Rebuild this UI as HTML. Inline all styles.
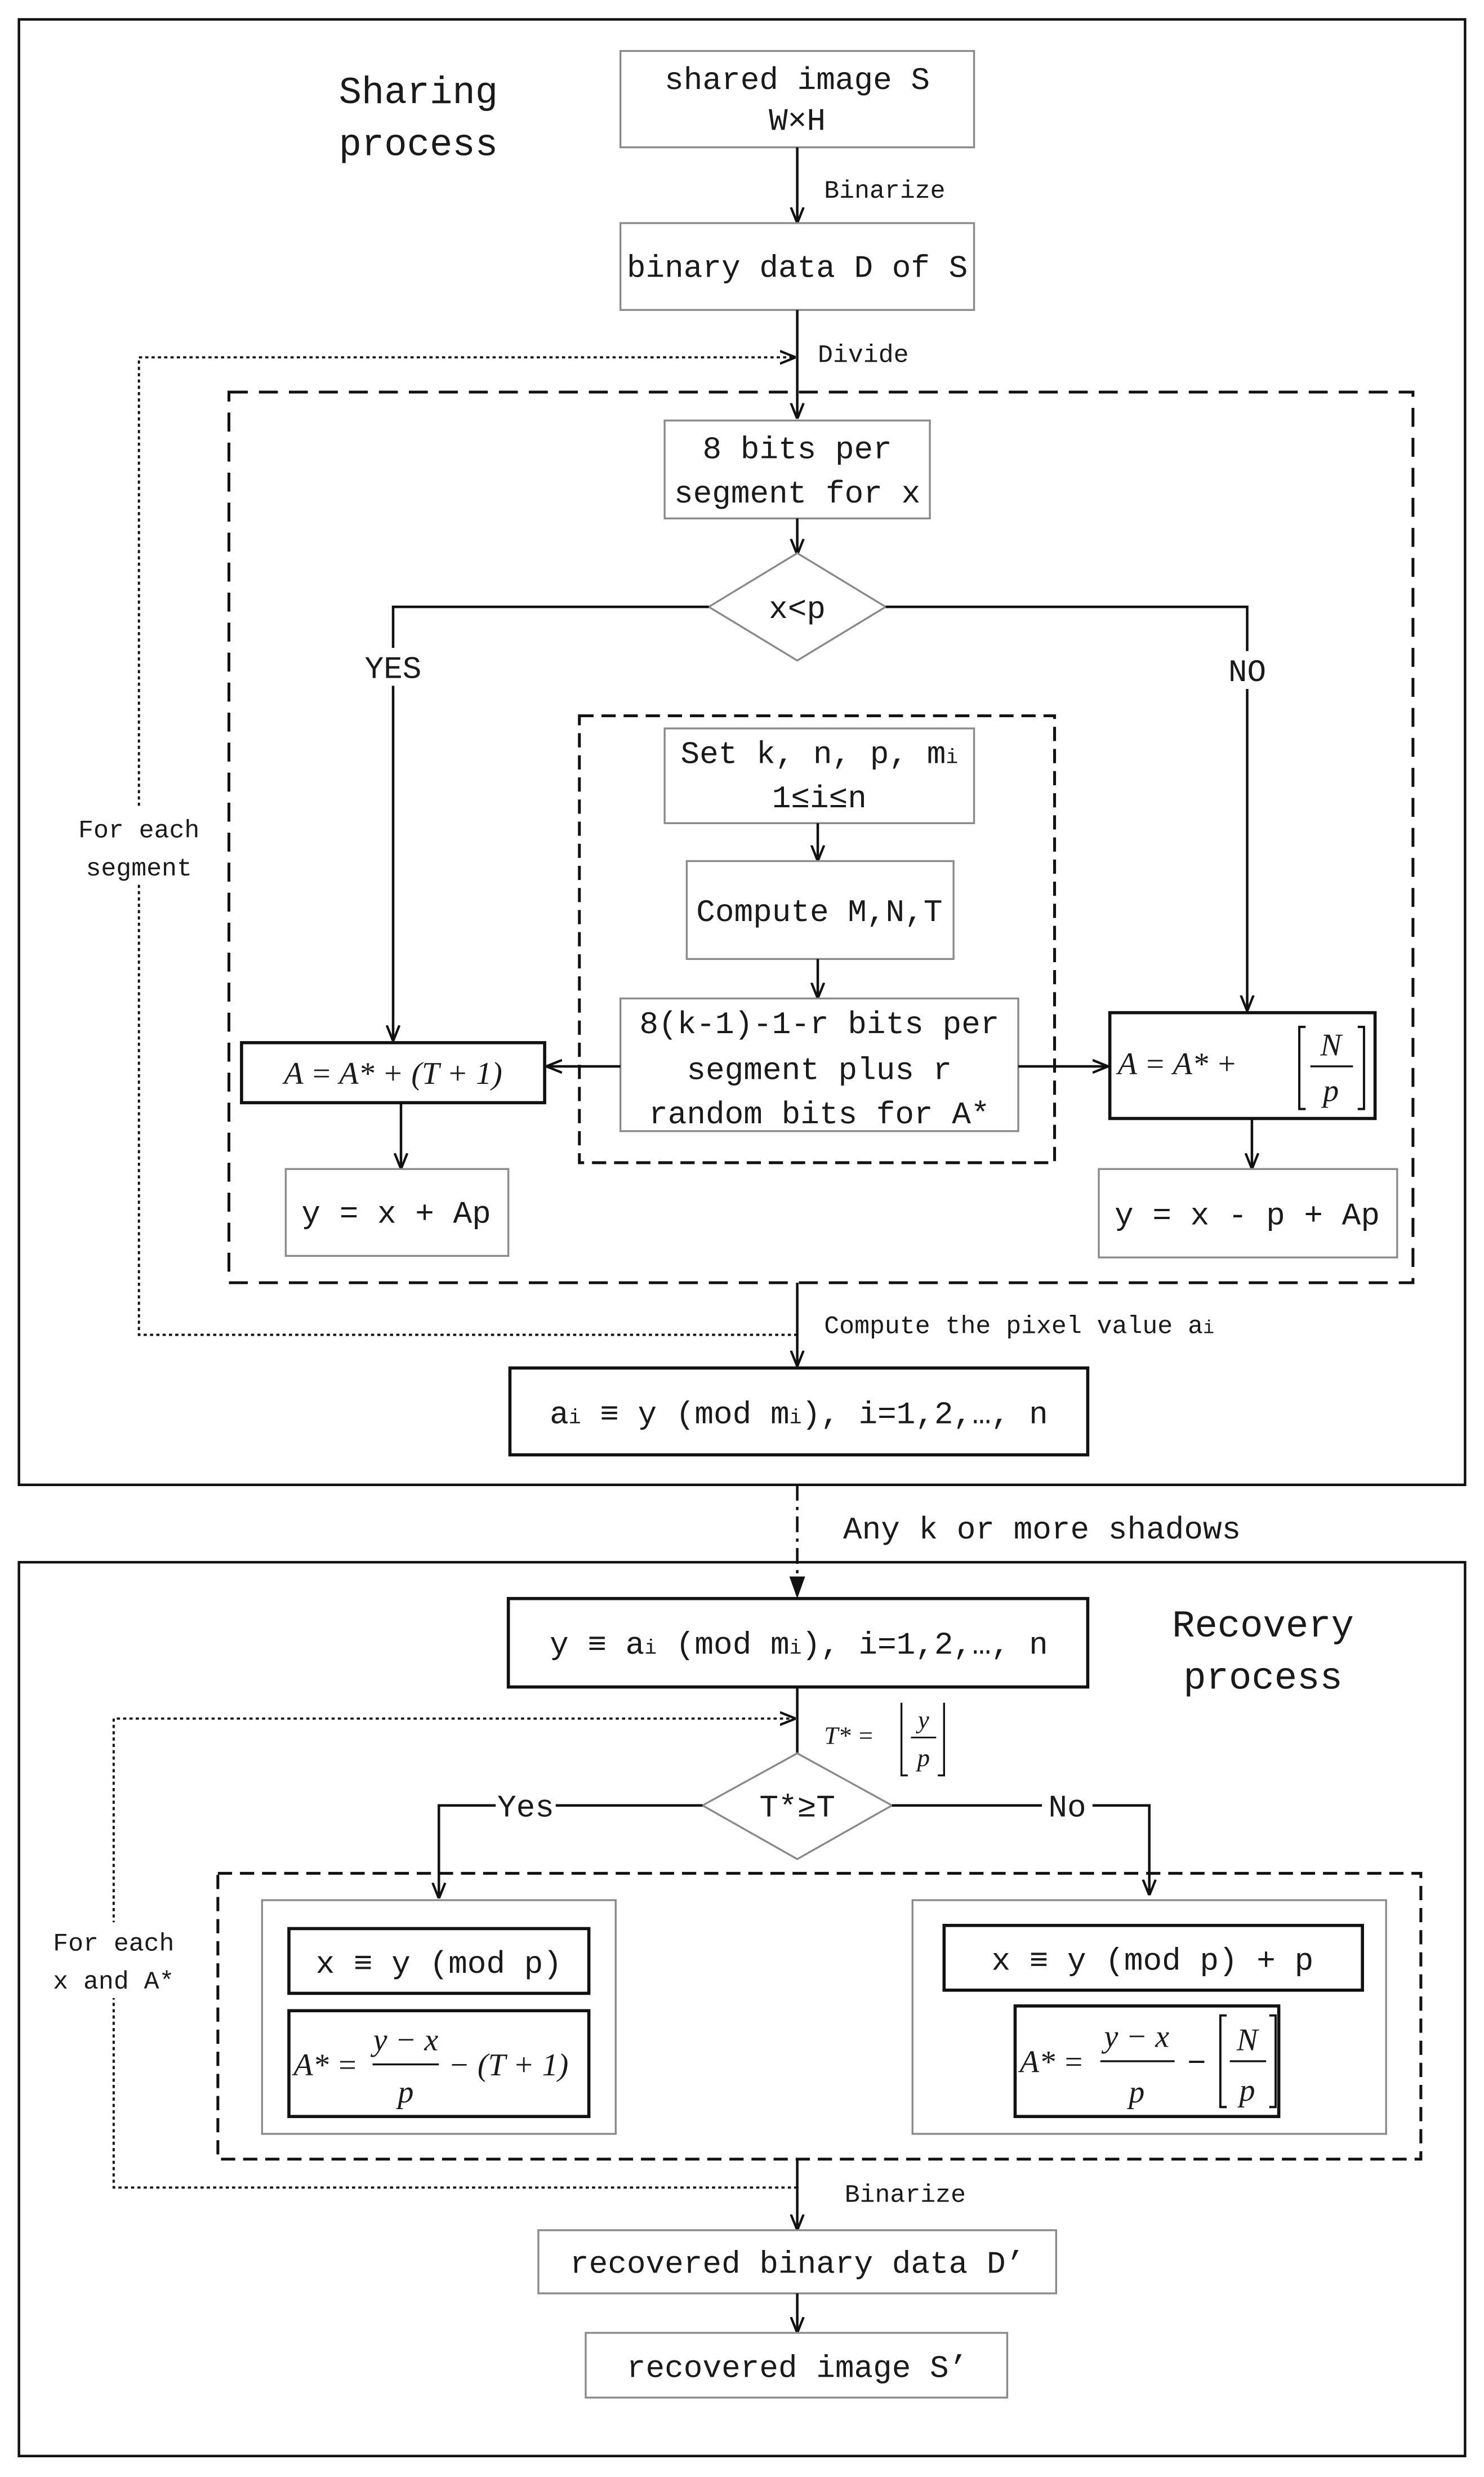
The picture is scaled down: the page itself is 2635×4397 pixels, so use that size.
<!DOCTYPE html>
<html><head><meta charset="utf-8"><style>
html,body{margin:0;padding:0;background:#fff}
svg{display:block}
text{font-family:"Liberation Mono","Noto Sans CJK SC",monospace;fill:#1a1a1a}
.t{font-size:20px}
.s{font-size:16px}
.g{fill:#fff;stroke:#8a8a8a;stroke-width:1.2}
.b{fill:#fff;stroke:#111;stroke-width:2}
.l{stroke:#111;stroke-width:1.6;fill:none}
.it{font-family:"Liberation Serif",serif;font-style:italic}
</style></head><body>
<svg width="2635" height="4397" viewBox="0 0 940 1568" xmlns="http://www.w3.org/2000/svg">
<defs><marker id="a" markerWidth="10" markerHeight="10" refX="9" refY="5" orient="auto" markerUnits="userSpaceOnUse"><path d="M0,1 L10,5 L0,9" fill="none" stroke="#111" stroke-width="1.5"/></marker>
<marker id="f" markerWidth="14" markerHeight="14" refX="13" refY="7" orient="auto" markerUnits="userSpaceOnUse"><path d="M0,2 L14,7 L0,12 z" fill="#111"/></marker></defs>
<rect x="12" y="12" width="916" height="928" fill="none" stroke="#111" stroke-width="1.6"/>
<rect x="12" y="989" width="916" height="566" fill="none" stroke="#111" stroke-width="1.6"/>
<text x="265" y="65" font-size="24" text-anchor="middle">Sharing</text>
<text x="265" y="98" font-size="24" text-anchor="middle">process</text>
<rect class="g" x="393" y="32" width="224" height="61"/>
<text class="t" x="505" y="56" text-anchor="middle">shared image S</text>
<text class="t" x="505" y="82" text-anchor="middle">W×H</text>
<line class="l" x1="505" y1="93" x2="505" y2="140" marker-end="url(#a)"/>
<text class="s" x="522" y="125">Binarize</text>
<rect class="g" x="393" y="141" width="224" height="55"/>
<text class="t" x="505" y="175" text-anchor="middle">binary data D of S</text>
<line class="l" x1="505" y1="196" x2="505" y2="264" marker-end="url(#a)"/>
<text class="s" x="518" y="229">Divide</text>
<path d="M505,845 H88 V226 H503" fill="none" stroke="#111" stroke-width="1.4" stroke-dasharray="2,2" marker-end="url(#a)"/>
<rect x="46" y="512" width="84" height="48" fill="#fff"/>
<text class="s" x="88" y="530" text-anchor="middle">For each</text>
<text class="s" x="88" y="554" text-anchor="middle">segment</text>
<rect x="145" y="248" width="750" height="564" fill="none" stroke="#111" stroke-width="1.8" stroke-dasharray="12,7"/>
<rect class="g" x="421" y="266" width="168" height="62"/>
<text class="t" x="505" y="290" text-anchor="middle">8 bits per</text>
<text class="t" x="505" y="318" text-anchor="middle">segment for x</text>
<line class="l" x1="505" y1="328" x2="505" y2="350" marker-end="url(#a)"/>
<polygon points="505,350 561,384 505,418 449,384" class="g"/>
<text class="t" x="505" y="391" text-anchor="middle">x&lt;p</text>
<path class="l" d="M449,384 H249 V658" marker-end="url(#a)"/>
<rect x="228" y="410" width="42" height="24" fill="#fff"/>
<text class="t" x="249" y="429" text-anchor="middle">YES</text>
<path class="l" d="M561,384 H790 V639" marker-end="url(#a)"/>
<rect x="772" y="412" width="38" height="24" fill="#fff"/>
<text class="t" x="790" y="431" text-anchor="middle">NO</text>
<rect x="367" y="453" width="301" height="283" fill="none" stroke="#111" stroke-width="1.8" stroke-dasharray="9,5"/>
<rect class="g" x="421" y="461" width="196" height="60"/>
<text class="t" x="519" y="483" text-anchor="middle">Set k, n, p, m<tspan font-size="13">i</tspan></text>
<text class="t" x="519" y="511" text-anchor="middle">1≤i≤n</text>
<line class="l" x1="518" y1="521" x2="518" y2="544" marker-end="url(#a)"/>
<rect class="g" x="435" y="545" width="169" height="62"/>
<text class="t" x="519" y="583" text-anchor="middle">Compute M,N,T</text>
<line class="l" x1="518" y1="607" x2="518" y2="631" marker-end="url(#a)"/>
<rect class="g" x="393" y="632" width="252" height="84"/>
<text class="t" x="519" y="654" text-anchor="middle">8(k-1)-1-r bits per</text>
<text class="t" x="519" y="683" text-anchor="middle">segment plus r</text>
<text class="t" x="519" y="711" text-anchor="middle">random bits for A*</text>
<line class="l" x1="393" y1="675" x2="347" y2="675" marker-end="url(#a)"/>
<line class="l" x1="645" y1="675" x2="701" y2="675" marker-end="url(#a)"/>
<rect class="b" x="153" y="660" width="192" height="38"/>
<text class="t it" x="249" y="686" text-anchor="middle">A = A* + (T + 1)</text>
<line class="l" x1="254" y1="698" x2="254" y2="739" marker-end="url(#a)"/>
<rect class="g" x="181" y="740" width="141" height="55"/>
<text class="t" x="251" y="774" text-anchor="middle">y = x + Ap</text>
<rect class="b" x="703" y="641" width="168" height="67"/>
<text class="t it" x="708" y="680">A = A* +</text>
<path d="M827,650 h-4 v52 h4 M860,650 h4 v52 h-4" fill="none" stroke="#111" stroke-width="1.4"/>
<line x1="830" y1="675" x2="857" y2="675" stroke="#111" stroke-width="1.2"/>
<text class="t it" x="843" y="668" text-anchor="middle">N</text>
<text class="t it" x="843" y="697" text-anchor="middle">p</text>
<line class="l" x1="793" y1="708" x2="793" y2="739" marker-end="url(#a)"/>
<rect class="g" x="696" y="740" width="189" height="56"/>
<text class="t" x="790" y="775" text-anchor="middle">y = x - p + Ap</text>
<line class="l" x1="505" y1="812" x2="505" y2="864" marker-end="url(#a)"/>
<text class="s" x="522" y="844">Compute the pixel value a<tspan font-size="12">i</tspan></text>
<rect class="b" x="323" y="866" width="366" height="55"/>
<text class="t" x="506" y="901" text-anchor="middle">a<tspan font-size="13">i</tspan> ≡ y (mod m<tspan font-size="13">i</tspan>), i=1,2,…, n</text>
<line x1="505" y1="940" x2="505" y2="1011" stroke="#111" stroke-width="1.6" stroke-dasharray="10,4,2,4" marker-end="url(#f)"/>
<rect x="520" y="952" width="270" height="30" fill="#fff"/>
<text class="t" x="660" y="974" text-anchor="middle">Any k or more shadows</text>
<rect class="b" x="322" y="1012" width="367" height="56"/>
<text class="t" x="506" y="1047" text-anchor="middle">y ≡ a<tspan font-size="13">i</tspan> (mod m<tspan font-size="13">i</tspan>), i=1,2,…, n</text>
<text x="800" y="1036" font-size="24" text-anchor="middle">Recovery</text>
<text x="800" y="1069" font-size="24" text-anchor="middle">process</text>
<line class="l" x1="505" y1="1068" x2="505" y2="1110"/>
<path d="M505,1385 H72 V1088 H503" fill="none" stroke="#111" stroke-width="1.4" stroke-dasharray="2,2" marker-end="url(#a)"/>
<text class="s it" x="522" y="1104">T* =</text>
<path d="M571,1078 v46 h4 M598,1078 v46 h-4" fill="none" stroke="#111" stroke-width="1.2"/>
<line x1="577" y1="1100" x2="593" y2="1100" stroke="#111" stroke-width="1"/>
<text class="s it" x="585" y="1094" text-anchor="middle">y</text>
<text class="s it" x="585" y="1118" text-anchor="middle">p</text>
<rect x="30" y="1217" width="84" height="48" fill="#fff"/>
<text class="s" x="72" y="1235" text-anchor="middle">For each</text>
<text class="s" x="72" y="1259" text-anchor="middle">x and A*</text>
<polygon points="505,1110 565,1143 505,1177 445,1143" class="g"/>
<text class="t" x="505" y="1150" text-anchor="middle">T*≥T</text>
<path class="l" d="M445,1143 H278 V1201" marker-end="url(#a)"/>
<rect x="314" y="1132" width="38" height="22" fill="#fff"/>
<text class="t" x="333" y="1150" text-anchor="middle">Yes</text>
<path class="l" d="M565,1143 H728 V1199" marker-end="url(#a)"/>
<rect x="660" y="1132" width="32" height="22" fill="#fff"/>
<text class="t" x="676" y="1150" text-anchor="middle">No</text>
<rect x="138" y="1186" width="762" height="181" fill="none" stroke="#111" stroke-width="1.8" stroke-dasharray="9,5"/>
<rect class="g" x="166" y="1203" width="224" height="148"/>
<rect class="b" x="183" y="1221" width="190" height="41"/>
<text class="t" x="278" y="1249" text-anchor="middle">x ≡ y (mod p)</text>
<rect class="b" x="183" y="1273" width="190" height="67"/>
<text class="t it" x="186" y="1314">A* =</text>
<line x1="236" y1="1307" x2="278" y2="1307" stroke="#111" stroke-width="1.2"/>
<text class="t it" x="257" y="1298" text-anchor="middle">y − x</text>
<text class="t it" x="257" y="1331" text-anchor="middle">p</text>
<text class="t it" x="284" y="1314">− (T + 1)</text>
<rect class="g" x="578" y="1203" width="300" height="148"/>
<rect class="b" x="598" y="1219" width="265" height="41"/>
<text class="t" x="730" y="1247" text-anchor="middle">x ≡ y (mod p) + p</text>
<rect class="b" x="643" y="1270" width="167" height="70"/>
<text class="t it" x="646" y="1312">A* =</text>
<line x1="697" y1="1305" x2="744" y2="1305" stroke="#111" stroke-width="1.2"/>
<text class="t it" x="720" y="1296" text-anchor="middle">y − x</text>
<text class="t it" x="720" y="1331" text-anchor="middle">p</text>
<text class="t" x="752" y="1312">−</text>
<path d="M777,1276 h-4 v58 h4 M804,1276 h4 v58 h-4" fill="none" stroke="#111" stroke-width="1.4"/>
<line x1="779" y1="1305" x2="802" y2="1305" stroke="#111" stroke-width="1.2"/>
<text class="t it" x="790" y="1298" text-anchor="middle">N</text>
<text class="t it" x="790" y="1330" text-anchor="middle">p</text>
<line class="l" x1="505" y1="1367" x2="505" y2="1411" marker-end="url(#a)"/>
<text class="s" x="535" y="1394">Binarize</text>
<rect class="g" x="341" y="1412" width="328" height="40"/>
<text class="t" x="505" y="1439" text-anchor="middle">recovered binary data D’</text>
<line class="l" x1="505" y1="1452" x2="505" y2="1476" marker-end="url(#a)"/>
<rect class="g" x="371" y="1477" width="267" height="41"/>
<text class="t" x="505" y="1505" text-anchor="middle">recovered image S’</text>
</svg>
</body></html>
